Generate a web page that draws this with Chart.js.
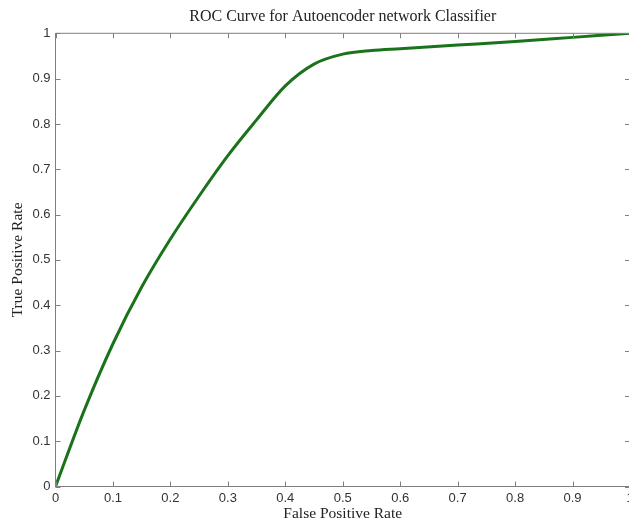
<!DOCTYPE html>
<html>
<head>
<meta charset="utf-8">
<script src="https://cdn.jsdelivr.net/npm/chart.js@4.4.1/dist/chart.umd.min.js"></script>
<style>
  html, body { margin: 0; padding: 0; background: #fff; overflow: hidden; }
  #wrap { width: 629px; height: 523px; overflow: hidden; position: relative; }
  #box { width: 650px; height: 523px; position: absolute; left: 0; top: 0; }
</style>
</head>
<body>
<div id="wrap"><div id="box"><canvas id="roc"></canvas></div></div>
<script>
// ROC curve of the autoencoder network classifier
const chartTitle = 'ROC Curve for Autoencoder network Classifier';
const falsePositiveRate = [0, 0.05, 0.10, 0.15, 0.20, 0.25, 0.30, 0.35, 0.40, 0.45, 0.50, 0.55, 0.60, 0.70, 0.80, 0.90, 1.00];
const truePositiveRate  = [0, 0.168, 0.315, 0.44, 0.546, 0.641, 0.730, 0.809, 0.884, 0.932, 0.954, 0.962, 0.966, 0.974, 0.982, 0.991, 1.00];
const tickValues = [0, 0.1, 0.2, 0.3, 0.4, 0.5, 0.6, 0.7, 0.8, 0.9, 1];

const points = falsePositiveRate.map((x, i) => ({ x: x, y: truePositiveRate[i] }));

const AXIS_COLOR = '#7f7f7f';
const serif = "'Liberation Serif', 'Times New Roman', serif";
const sans = "'Liberation Sans', Arial, sans-serif";

// Box around the axes with inward-pointing tick marks on all four sides,
// plus the title centred over the plotting area
const boxTicks = {
  id: 'boxTicks',
  afterDatasetsDraw(chart) {
    const { ctx, chartArea: a, scales } = chart;
    const len = 5;
    ctx.save();
    ctx.strokeStyle = AXIS_COLOR;
    ctx.lineWidth = 1;
    ctx.beginPath();
    ctx.rect(a.left, a.top, a.right - a.left, a.bottom - a.top);
    tickValues.forEach(v => {
      const px = Math.round(scales.x.getPixelForValue(v)) + 0.5;
      ctx.moveTo(px, a.bottom); ctx.lineTo(px, a.bottom - len);
      ctx.moveTo(px, a.top); ctx.lineTo(px, a.top + len);
      const py = Math.round(scales.y.getPixelForValue(v)) + 0.5;
      ctx.moveTo(a.left, py); ctx.lineTo(a.left + len, py);
      ctx.moveTo(a.right, py); ctx.lineTo(a.right - len, py);
    });
    ctx.stroke();

    ctx.fillStyle = '#222';
    ctx.font = '16px ' + serif;
    ctx.textAlign = 'center';
    ctx.textBaseline = 'middle';
    ctx.fillText(chartTitle, (a.left + a.right) / 2, 17);
    ctx.restore();
  }
};

new Chart(document.getElementById('roc'), {
  type: 'line',
  data: {
    datasets: [{
      data: points,
      borderColor: '#1a731a',
      borderWidth: 3,
      pointRadius: 0,
      fill: false,
      cubicInterpolationMode: 'monotone'
    }]
  },
  options: {
    responsive: true,
    maintainAspectRatio: false,
    animation: false,
    layout: { padding: { left: 0, right: 20, top: 33.3, bottom: 0 } },
    plugins: {
      legend: { display: false },
      tooltip: { enabled: false },
      title: { display: false }
    },
    scales: {
      x: {
        type: 'linear',
        min: 0, max: 1,
        afterBuildTicks(axis) { axis.ticks = tickValues.map(v => ({ value: v })); },
        afterFit(axis) { axis.height = 36.5; },
        grid: { drawOnChartArea: false, drawTicks: false },
        border: { display: true, color: AXIS_COLOR },
        ticks: {
          color: '#333',
          font: { family: sans, size: 13 },
          padding: 4,
          maxRotation: 0,
          autoSkip: false,
          callback: v => String(v)
        },
        title: {
          display: true,
          text: 'False Positive Rate',
          color: '#222',
          font: { family: serif, size: 15.5 },
          padding: { top: 0, bottom: 0 }
        }
      },
      y: {
        type: 'linear',
        min: 0, max: 1,
        afterBuildTicks(axis) { axis.ticks = tickValues.map(v => ({ value: v })); },
        afterFit(axis) { axis.width = 55.5; },
        grid: { drawOnChartArea: false, drawTicks: false },
        border: { display: true, color: AXIS_COLOR },
        ticks: {
          color: '#333',
          font: { family: sans, size: 13 },
          padding: 5,
          autoSkip: false,
          callback: v => String(v)
        },
        title: {
          display: true,
          text: 'True Positive Rate',
          color: '#222',
          font: { family: serif, size: 15.5 },
          padding: { top: 8.7, bottom: 0 }
        }
      }
    }
  },
  plugins: [boxTicks]
});
</script>
</body>
</html>
